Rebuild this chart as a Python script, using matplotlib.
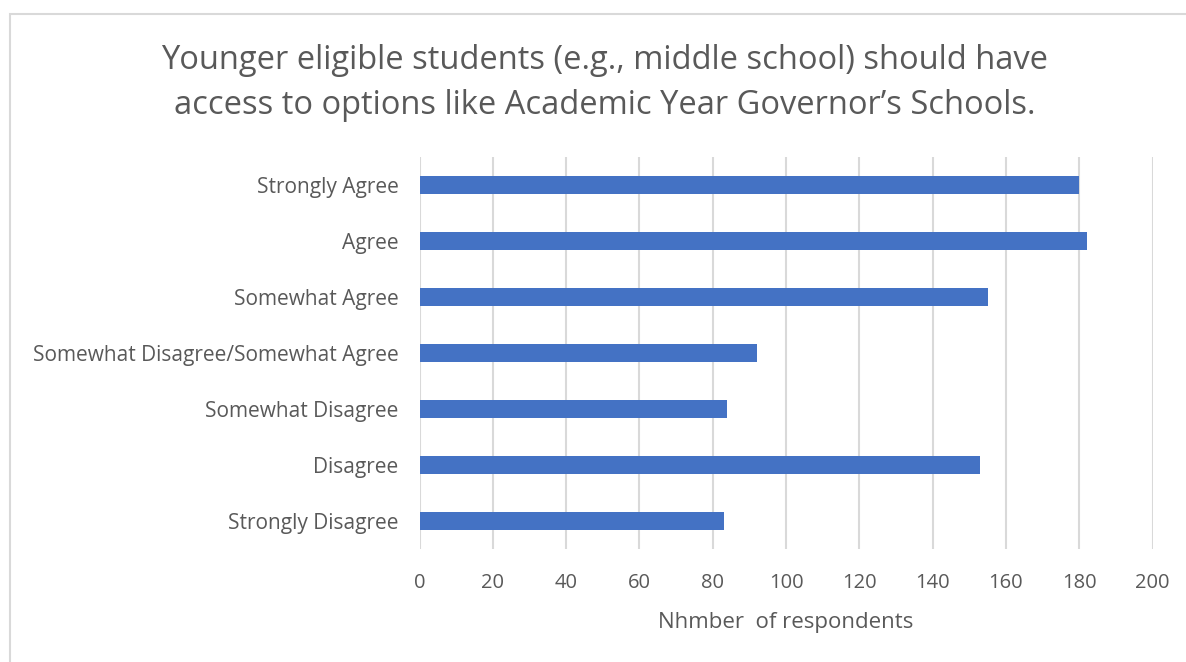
import matplotlib.pyplot as plt
from matplotlib.patches import Rectangle

# survey responses, top to bottom as shown
categories = [
    "Strongly Agree",
    "Agree",
    "Somewhat Agree",
    "Somewhat Disagree/Somewhat Agree",
    "Somewhat Disagree",
    "Disagree",
    "Strongly Disagree",
]
counts = [180, 182, 155, 92, 84, 153, 83]
x_ticks = list(range(0, 201, 20))

title = ("Younger eligible students (e.g., middle school) should have\n"
         "access to options like Academic Year Governor\u2019s Schools.")

plt.rcParams['font.family'] = ['Open Sans', 'DejaVu Sans']
text_grey = '#595959'

fig = plt.figure(figsize=(11.86, 6.62), dpi=100)
ax = fig.add_axes([419.5 / 1186, 1 - 549 / 662, (1152.5 - 419.5) / 1186, (549 - 157) / 662])

ypos = list(range(len(categories)))
ax.barh(ypos, counts, height=0.33, color='#4472C4', zorder=3)
ax.set_ylim(len(categories) - 0.5, -0.5)
ax.set_xlim(0, 200)

ax.set_yticks(ypos)
ax.set_yticklabels(categories, fontsize=15, color=text_grey)
ax.set_xticks(x_ticks)
ax.set_xticklabels([str(t) for t in x_ticks], fontsize=14.5, color=text_grey)
ax.tick_params(axis='both', length=0)
ax.tick_params(axis='y', pad=15)
ax.tick_params(axis='x', pad=17)

ax.grid(axis='x', color='#d9d9d9', linewidth=1.5, zorder=0)
for s in ax.spines.values():
    s.set_visible(False)

ax.set_xlabel("Nhmber  of respondents", fontsize=16, color=text_grey, labelpad=14)

fig.text(605 / 1186, 1 - 83 / 662, title, ha='center', va='center',
         fontsize=23.5, color=text_grey, linespacing=1.5)

# chart frame
fig.patches.append(Rectangle((10 / 1186, -0.1), 1.2, 1 - 14 / 662 + 0.1,
                             transform=fig.transFigure, fill=False,
                             edgecolor='#d9d9d9', linewidth=1.5))

fig.savefig('out.png', dpi=100, facecolor='white')
